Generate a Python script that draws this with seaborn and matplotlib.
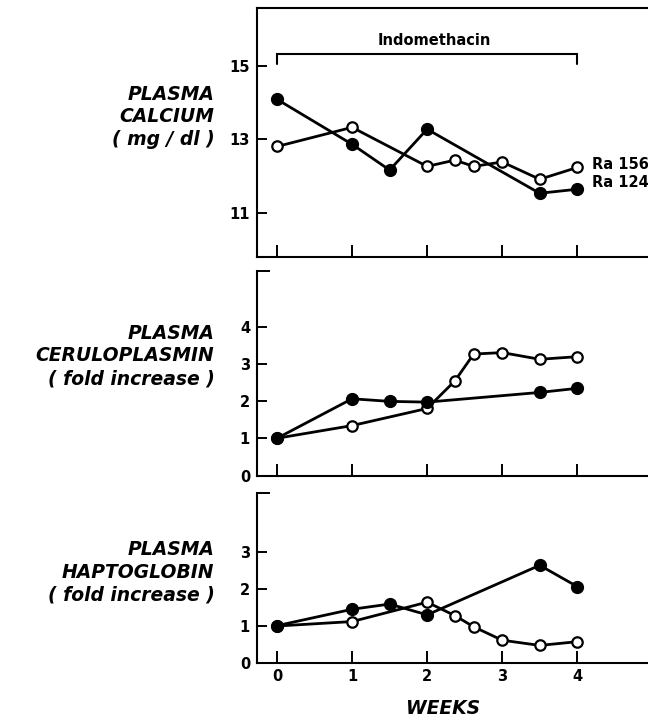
import matplotlib
matplotlib.use("Agg")
import matplotlib.pyplot as plt
import seaborn as sns
import pandas as pd

# weeks at which each rat was sampled
weeks_ra124 = [0, 1, 1.5, 2, 3.5, 4]
weeks_ra156 = [0, 1, 2, 2.37, 2.62, 3, 3.5, 4]

# plasma calcium (mg/dl)
calcium_ra124 = [14.09, 12.87, 12.17, 13.28, 11.54, 11.65]
calcium_ra156 = [12.81, 13.33, 12.27, 12.44, 12.27, 12.39, 11.92, 12.24]

# ceruloplasmin (fold increase)
cerulo_ra124 = [1.0, 2.06, 1.99, 1.97, 2.23, 2.34]
cerulo_ra156 = [1.0, 1.34, 1.80, 2.54, 3.26, 3.30, 3.12, 3.19]

# haptoglobin (fold increase)
hapto_ra124 = [1.01, 1.45, 1.59, 1.30, 2.63, 2.06]
hapto_ra156 = [1.0, 1.12, 1.64, 1.28, 0.98, 0.62, 0.48, 0.58]

week_ticks = [0, 1, 2, 3, 4]
week_labels = ["0", "1", "2", "3", "4"]

panel_titles = [
    "PLASMA\nCALCIUM\n( mg / dl )",
    "PLASMA\nCERULOPLASMIN\n( fold increase )",
    "PLASMA\nHAPTOGLOBIN\n( fold increase )",
]

sns.set_style("ticks")
plt.rcParams["font.family"] = ["DejaVu Sans"]
plt.rcParams.update({
    "text.color": "black",
    "axes.labelcolor": "black",
    "axes.edgecolor": "black",
    "xtick.color": "black",
    "ytick.color": "black",
})

W, H = 648, 724
fig = plt.figure(figsize=(W / 100, H / 100), dpi=100)


def px_axes(left, top, right, bottom):
    return fig.add_axes([left / W, (H - bottom) / H, (right - left) / W, (bottom - top) / H])


ax_ca = px_axes(257, 8, 662, 257)
ax_cp = px_axes(257, 271, 662, 475.5)
ax_hp = px_axes(257, 493, 662, 663.3)

panels = [
    (ax_ca, calcium_ra124, calcium_ra156, (9.81, 16.57), [11, 13, 15]),
    (ax_cp, cerulo_ra124, cerulo_ra156, (0, 5.49), [0, 1, 2, 3, 4]),
    (ax_hp, hapto_ra124, hapto_ra156, (0, 4.57), [0, 1, 2, 3]),
]

label_y = [0.563, 0.585, 0.535]

for i, (ax, filled, opened, ylim, yt) in enumerate(panels):
    df_o = pd.DataFrame({"week": weeks_ra156, "value": opened})
    df_f = pd.DataFrame({"week": weeks_ra124, "value": filled})
    sns.lineplot(data=df_o, x="week", y="value", ax=ax, color="black", lw=2,
                 marker="o", markersize=7.5, markerfacecolor="white",
                 markeredgecolor="black", markeredgewidth=1.6,
                 estimator=None, sort=False, legend=False)
    sns.lineplot(data=df_f, x="week", y="value", ax=ax, color="black", lw=2,
                 marker="o", markersize=8.5, markerfacecolor="black",
                 markeredgecolor="black", markeredgewidth=1,
                 estimator=None, sort=False, legend=False)
    ax.set_xlim(-0.267, 5.13)
    ax.set_ylim(*ylim)
    ax.set_yticks(yt)
    ax.set_yticklabels([str(v) for v in yt])
    ax.set_xticks(week_ticks)
    ax.tick_params(axis="y", direction="in", length=7, width=1.4, pad=5,
                   labelsize=10.5)
    ax.tick_params(axis="x", direction="in", length=8.5, width=1.4, pad=4,
                   labelsize=10.5)
    for lab in ax.get_yticklabels() + ax.get_xticklabels():
        lab.set_fontweight("bold")
    for s in ax.spines.values():
        s.set_linewidth(1.5)
    ax.spines["right"].set_visible(False)
    if i == 0:
        ax.spines["top"].set_visible(True)
    else:
        ax.spines["top"].set_visible(False)
        ax.set_yticks([ylim[1]], minor=True)
        ax.tick_params(axis="y", which="minor", direction="in", length=9.5, width=1.4)
    ax.set_ylabel(panel_titles[i], rotation=0, ha="right", va="center",
                  multialignment="right", fontsize=13.5, fontweight="bold",
                  fontstyle="italic", linespacing=1.25)
    ax.yaxis.set_label_coords(-0.105, label_y[i])
    if i < 2:
        ax.set_xticklabels([])
        ax.set_xlabel("")
    else:
        ax.set_xticklabels(week_labels)
        ax.set_xlabel("WEEKS", fontsize=13.5, fontweight="bold", fontstyle="italic")
        ax.xaxis.set_label_coords((443 - 257) / (662 - 257), -0.263)
        ax.xaxis.label.set_va("center")

# treatment bracket
ax_ca.plot([0, 0, 4, 4], [15.05, 15.32, 15.32, 15.05], color="black", lw=1.5,
           solid_joinstyle="miter")
ax_ca.text(2.1, 15.7, "Indomethacin", ha="center", va="center", fontsize=10.5,
           fontweight="bold")

# rat labels
ax_ca.text(4.2, 12.31, "Ra 156", ha="left", va="center", fontsize=10.5, fontweight="bold")
ax_ca.text(4.2, 11.83, "Ra 124", ha="left", va="center", fontsize=10.5, fontweight="bold")

fig.savefig("out.png", dpi=100)
